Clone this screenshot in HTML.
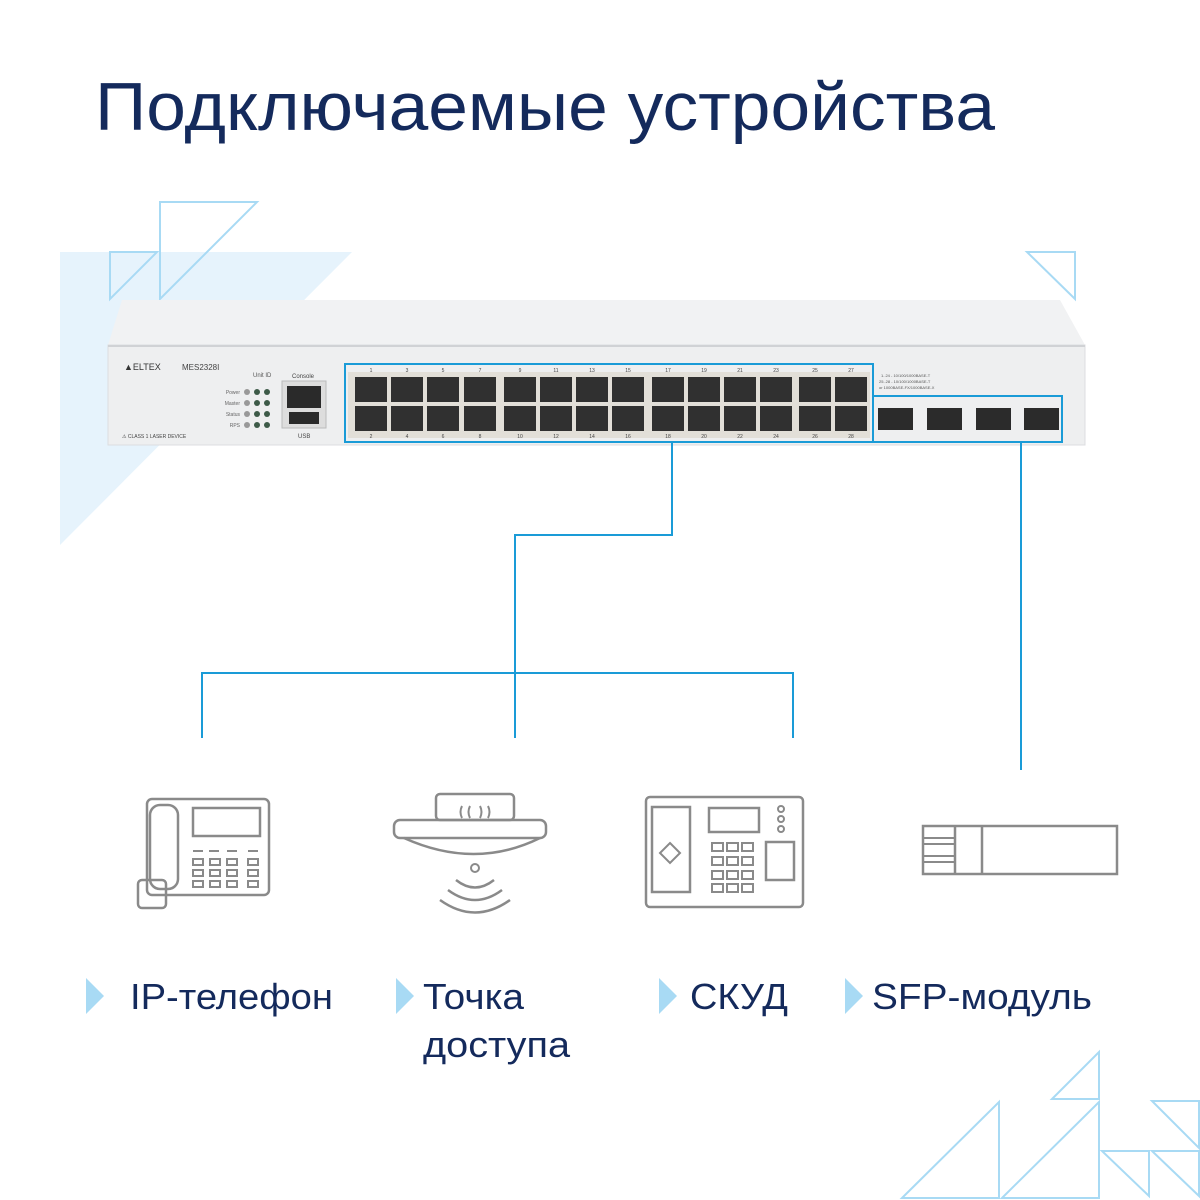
<!DOCTYPE html>
<html><head><meta charset="utf-8"><style>
html,body{margin:0;padding:0;background:#fff}
svg{display:block}
</style></head><body>
<svg width="1200" height="1200" viewBox="0 0 1200 1200" xmlns="http://www.w3.org/2000/svg" font-family="Liberation Sans, DejaVu Sans, sans-serif">
<text x="95" y="130" font-size="68" fill="#142a5c" font-weight="500" textLength="900" lengthAdjust="spacingAndGlyphs">Подключаемые устройства</text>
<polygon points="60,252 352,252 60,545" fill="#e6f3fc"/>
<g fill="none" stroke="#a8daf4" stroke-width="2">
<polygon points="160,202 257,202 160,299"/>
<polygon points="110,252 157,252 110,299"/>
<polygon points="1027,252 1075,252 1075,299"/>
<polygon points="902,1198 999,1102 999,1198"/>
<polygon points="1002,1198 1099,1102 1099,1198"/>
<polygon points="1052,1099 1099,1052 1099,1099"/>
<polygon points="1152,1101 1199,1101 1199,1148"/>
<polygon points="1102,1151 1149,1151 1149,1196"/>
<polygon points="1152,1151 1199,1151 1199,1196"/>
</g>
<!-- switch -->
<polygon points="122,300 1060,300 1085,345 108,345" fill="#f1f2f3"/>
<rect x="108" y="345" width="977" height="100" fill="#eeeff0" stroke="#dcdde0"/>
<line x1="108" y1="346" x2="1085" y2="346" stroke="#d0d2d5" stroke-width="2"/>
<text x="124" y="370" font-size="9" fill="#333">▲ELTEX</text>
<text x="182" y="370" font-size="8" fill="#444">MES2328I</text>
<text x="253" y="377" font-size="6" fill="#555">Unit ID</text>
<g font-size="5" fill="#666" text-anchor="end"><text x="240" y="394">Power</text><text x="240" y="405">Master</text><text x="240" y="416">Status</text><text x="240" y="427">RPS</text></g>
<g fill="#3d5a48"><circle cx="247" cy="392" r="3" fill="#999"/><circle cx="257" cy="392" r="3"/><circle cx="267" cy="392" r="3"/>
<circle cx="247" cy="403" r="3" fill="#999"/><circle cx="257" cy="403" r="3"/><circle cx="267" cy="403" r="3"/>
<circle cx="247" cy="414" r="3" fill="#999"/><circle cx="257" cy="414" r="3"/><circle cx="267" cy="414" r="3"/>
<circle cx="247" cy="425" r="3" fill="#999"/><circle cx="257" cy="425" r="3"/><circle cx="267" cy="425" r="3"/></g>
<text x="122" y="438" font-size="5" fill="#444">⚠ CLASS 1 LASER DEVICE</text>
<text x="292" y="378" font-size="6" fill="#444">Console</text>
<rect x="282" y="381" width="44" height="47" fill="#ddd" stroke="#bbb"/>
<rect x="287" y="386" width="34" height="22" fill="#2a2a2a"/>
<rect x="289" y="412" width="30" height="12" fill="#2a2a2a"/>
<text x="298" y="438" font-size="6" fill="#444">USB</text>
<rect x="348" y="372" width="522" height="66" fill="#e2dfd8"/>
<g fill="#303030">
<rect x="355" y="377" width="32" height="25"/><rect x="391" y="377" width="32" height="25"/><rect x="427" y="377" width="32" height="25"/><rect x="464" y="377" width="32" height="25"/>
<rect x="504" y="377" width="32" height="25"/><rect x="540" y="377" width="32" height="25"/><rect x="576" y="377" width="32" height="25"/><rect x="612" y="377" width="32" height="25"/>
<rect x="652" y="377" width="32" height="25"/><rect x="688" y="377" width="32" height="25"/><rect x="724" y="377" width="32" height="25"/><rect x="760" y="377" width="32" height="25"/>
<rect x="799" y="377" width="32" height="25"/><rect x="835" y="377" width="32" height="25"/>
<rect x="355" y="406" width="32" height="25"/><rect x="391" y="406" width="32" height="25"/><rect x="427" y="406" width="32" height="25"/><rect x="464" y="406" width="32" height="25"/>
<rect x="504" y="406" width="32" height="25"/><rect x="540" y="406" width="32" height="25"/><rect x="576" y="406" width="32" height="25"/><rect x="612" y="406" width="32" height="25"/>
<rect x="652" y="406" width="32" height="25"/><rect x="688" y="406" width="32" height="25"/><rect x="724" y="406" width="32" height="25"/><rect x="760" y="406" width="32" height="25"/>
<rect x="799" y="406" width="32" height="25"/><rect x="835" y="406" width="32" height="25"/>
</g>
<g font-size="5" fill="#444" text-anchor="middle">
<text x="371" y="372">1</text><text x="407" y="372">3</text><text x="443" y="372">5</text><text x="480" y="372">7</text><text x="520" y="372">9</text><text x="556" y="372">11</text><text x="592" y="372">13</text><text x="628" y="372">15</text><text x="668" y="372">17</text><text x="704" y="372">19</text><text x="740" y="372">21</text><text x="776" y="372">23</text><text x="815" y="372">25</text><text x="851" y="372">27</text>
<text x="371" y="438">2</text><text x="407" y="438">4</text><text x="443" y="438">6</text><text x="480" y="438">8</text><text x="520" y="438">10</text><text x="556" y="438">12</text><text x="592" y="438">14</text><text x="628" y="438">16</text><text x="668" y="438">18</text><text x="704" y="438">20</text><text x="740" y="438">22</text><text x="776" y="438">24</text><text x="815" y="438">26</text><text x="851" y="438">28</text>
</g>
<g font-size="4" fill="#555"><text x="881" y="377">1..24 - 10/100/1000BASE-T</text><text x="879" y="383">25..28 - 10/100/1000BASE-T</text><text x="879" y="389">or 1000BASE-FX/1000BASE-X</text></g>
<g fill="#2b2b2b"><rect x="878" y="408" width="35" height="22"/><rect x="927" y="408" width="35" height="22"/><rect x="976" y="408" width="35" height="22"/><rect x="1024" y="408" width="35" height="22"/></g>
<rect x="345" y="364" width="528" height="78" fill="none" stroke="#1a9bd7" stroke-width="2"/>
<rect x="873" y="396" width="189" height="46" fill="none" stroke="#1a9bd7" stroke-width="2"/>
<g fill="none" stroke="#1a9bd7" stroke-width="2">
<polyline points="672,442 672,535 515,535 515,738"/>
<polyline points="202,738 202,673 793,673 793,738"/>
<line x1="1021" y1="442" x2="1021" y2="770"/>
</g>
<!-- icons -->
<g fill="none" stroke="#8a8a8a" stroke-width="2.5">
<rect x="147" y="799" width="122" height="96" rx="5"/>
<rect x="150" y="805" width="28" height="84" rx="10"/>
<rect x="138" y="880" width="28" height="28" rx="4"/>
<rect x="193" y="808" width="67" height="28"/>
<rect x="394" y="820" width="152" height="18" rx="6"/>
<rect x="436" y="794" width="78" height="26" rx="4"/>
<path d="M404 838 Q475 870 540 838"/>
<path d="M440 900 Q475 925 510 900 M448 890 Q475 910 502 890 M456 880 Q475 895 494 880"/>
<rect x="646" y="797" width="157" height="110" rx="4"/>
<rect x="652" y="807" width="38" height="85"/>
<rect x="709" y="808" width="50" height="24"/>
<rect x="766" y="842" width="28" height="38"/>
<rect x="923" y="826" width="194" height="48"/>
<line x1="955" y1="826" x2="955" y2="874"/><line x1="982" y1="826" x2="982" y2="874"/>
</g>
<g fill="none" stroke="#8a8a8a" stroke-width="2">
<path d="M193 851h10M209 851h10M227 851h10M248 851h10"/>
<rect x="193" y="859" width="10" height="6"/><rect x="210" y="859" width="10" height="6"/><rect x="227" y="859" width="10" height="6"/><rect x="248" y="859" width="10" height="6"/>
<rect x="193" y="870" width="10" height="6"/><rect x="210" y="870" width="10" height="6"/><rect x="227" y="870" width="10" height="6"/><rect x="248" y="870" width="10" height="6"/>
<rect x="193" y="881" width="10" height="6"/><rect x="210" y="881" width="10" height="6"/><rect x="227" y="881" width="10" height="6"/><rect x="248" y="881" width="10" height="6"/>
<rect x="712" y="843" width="11" height="8"/><rect x="727" y="843" width="11" height="8"/><rect x="742" y="843" width="11" height="8"/>
<rect x="712" y="857" width="11" height="8"/><rect x="727" y="857" width="11" height="8"/><rect x="742" y="857" width="11" height="8"/>
<rect x="712" y="871" width="11" height="8"/><rect x="727" y="871" width="11" height="8"/><rect x="742" y="871" width="11" height="8"/>
<rect x="712" y="884" width="11" height="8"/><rect x="727" y="884" width="11" height="8"/><rect x="742" y="884" width="11" height="8"/>
<circle cx="781" cy="809" r="3"/><circle cx="781" cy="819" r="3"/><circle cx="781" cy="829" r="3"/>
<polygon points="670,843 680,853 670,863 660,853"/>
<circle cx="475" cy="868" r="4"/>
<path d="M462 806 q-3 6 0 12 M470 806 q-3 6 0 12 M480 806 q3 6 0 12 M488 806 q3 6 0 12"/>
<rect x="923" y="838" width="32" height="6"/><rect x="923" y="856" width="32" height="6"/>
</g>
<!-- labels -->
<g fill="#a8daf4"><polygon points="86,978 104,996 86,1014"/><polygon points="396,978 414,996 396,1014"/><polygon points="659,978 677,996 659,1014"/><polygon points="845,978 863,996 845,1014"/></g>
<g font-size="36" fill="#142a5c">
<text x="130" y="1009" textLength="203" lengthAdjust="spacingAndGlyphs">IP-телефон</text>
<text x="423" y="1009" textLength="101" lengthAdjust="spacingAndGlyphs">Точка</text>
<text x="423" y="1057" textLength="147" lengthAdjust="spacingAndGlyphs">доступа</text>
<text x="690" y="1009" textLength="98" lengthAdjust="spacingAndGlyphs">СКУД</text>
<text x="872" y="1009" textLength="220" lengthAdjust="spacingAndGlyphs">SFP-модуль</text>
</g>
</svg>
</body></html>
